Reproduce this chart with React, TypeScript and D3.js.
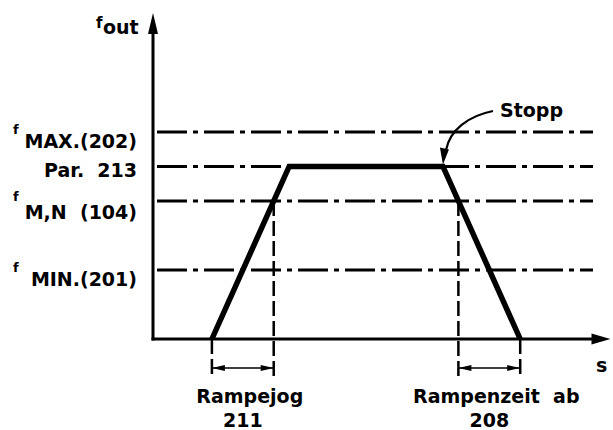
import React from 'react';
import * as d3 from 'd3';

// frequency levels (arbitrary units) and their labels
const levelKeys = ['fmax', 'par213', 'fmn', 'fmin'];
const levelValues = [60, 50, 40, 20];
const levelSub = ['MAX.(202)', 'Par.  213', 'M,N  (104)', 'MIN.(201)'];
const levelHasF = [true, false, true, true];

// ramp profile: time / frequency
const rampTimes = [3.85, 8.9, 18.95, 24];
const rampFreqs = [0, 50, 50, 0];

const rampLabels = [
  ['Rampejog', '211'],
  ['Rampenzeit  ab', '208'],
];

const W = 613;
const H = 430;
const FONT = '"DejaVu Sans", Verdana, sans-serif';

const App = () => {
  const x = d3.scaleLinear().domain([0, 30]).range([153, 612]);
  const y = d3.scaleLinear().domain([0, 100]).range([339, -6]);

  const x0 = x(0);
  const y0 = y(0);
  const yTop = y(94.5);
  const xEnd = x(29.9);
  const lineEnd = 593;

  const ramp = d3.line<number>()
    .x((d, i) => x(rampTimes[i]))
    .y((d) => y(d))(rampFreqs);

  // where the ramps cross the f M,N level
  const fmn = levelValues[2];
  const crossUp = rampTimes[0] + (rampTimes[1] - rampTimes[0]) * (fmn - rampFreqs[0]) / (rampFreqs[1] - rampFreqs[0]);
  const crossDown = rampTimes[2] + (rampTimes[3] - rampTimes[2]) * (rampFreqs[2] - fmn) / (rampFreqs[2] - rampFreqs[3]);
  const spans = [
    [rampTimes[0], crossUp],
    [crossDown, rampTimes[3]],
  ];
  const dimY = 368;
  const dashBottom = 378;

  const dblArrow = (a: number, b: number) => {
    const xa = x(a), xb = x(b);
    return (
      <g>
        <line x1={xa} x2={xb} y1={dimY} y2={dimY} stroke="#000" strokeWidth={1.6} />
        <path d={`M${xa},${dimY} l13,-3 l0,6 z`} fill="#000" />
        <path d={`M${xb},${dimY} l-13,-3 l0,6 z`} fill="#000" />
      </g>
    );
  };

  const tip = { x: x(rampTimes[2]), y: y(rampFreqs[2]) - 2 };

  return (
    <svg width={W} height={H} style={{ position: 'absolute', left: 0, top: 0, background: '#fff' }}>
      {/* level lines */}
      {levelValues.map((v, i) => (
        <line key={levelKeys[i]} x1={x0} x2={lineEnd} y1={y(v)} y2={y(v)}
          stroke="#000" strokeWidth={3} strokeDasharray="30 6 5 6" strokeDashoffset={-4} />
      ))}

      {/* dashed guides */}
      {[...spans.flat()].map((t, i) => {
        const isCross = i === 1 || i === 2;
        return (
          <line key={i} x1={x(t)} x2={x(t)} y1={isCross ? y(fmn) : y0} y2={dashBottom}
            stroke="#000" strokeWidth={2.5} strokeDasharray="15 5" />
        );
      })}

      {/* axes */}
      <line x1={x0} x2={x0} y1={yTop + 10} y2={y0 + 1.5} stroke="#000" strokeWidth={3} />
      <path d={`M${x0},${yTop} L${x0 - 5},${yTop + 21} L${x0 + 5},${yTop + 21} z`} fill="#000" />
      <line x1={x0 - 1.5} x2={xEnd - 10} y1={y0} y2={y0} stroke="#000" strokeWidth={3} />
      <path d={`M${xEnd},${y0} L${xEnd - 19},${y0 - 5.5} L${xEnd - 19},${y0 + 5.5} z`} fill="#000" />

      {/* ramp */}
      <path d={ramp ?? ''} fill="none" stroke="#000" strokeWidth={5.5} strokeLinejoin="miter" />

      {/* dimension arrows */}
      {spans.map(([a, b], i) => <g key={i}>{dblArrow(a, b)}</g>)}

      {/* stop arrow */}
      <path d={`M493,111 C468,116 450,130 446,150`} fill="none" stroke="#000" strokeWidth={2.2} />
      <path d={`M${tip.x},${tip.y} L${tip.x - 3},${tip.y - 17} L${tip.x + 6},${tip.y - 15} z`} fill="#000" />
      <text x={500} y={117} fontFamily={FONT} fontWeight="bold" fontSize={19} fill="#000">Stopp</text>

      {/* level labels */}
      {levelValues.map((v, i) => {
        const yy = y(v);
        const isPar = !levelHasF[i];
        return (
          <g key={levelKeys[i]} fontFamily={FONT} fontWeight="bold" fill="#000">
            {levelHasF[i] && (
              <text x={13} y={yy + (i === 2 ? 0 : 2)} fontSize={13}>f</text>
            )}
            <text x={137} y={isPar ? yy + 10 : yy + 16 + (i === 2 ? 2 : 0)} fontSize={19}
              textAnchor="end" style={{ whiteSpace: 'pre' }}>{levelSub[i]}</text>
          </g>
        );
      })}

      {/* axis labels */}
      <g fontFamily={FONT} fontWeight="bold" fill="#000">
        <text x={96} y={28} fontSize={15}>f</text>
        <text x={103} y={34} fontSize={19}>out</text>
        <text x={596} y={372} fontSize={19}>s</text>
      </g>

      {/* ramp labels */}
      {rampLabels.map(([a, b], i) => {
        const cx = (x(spans[i][0]) + x(spans[i][1])) / 2;
        return (
          <g key={a} fontFamily={FONT} fontWeight="bold" fontSize={19} textAnchor="middle" fill="#000">
            <text x={cx + 7} y={403} style={{ whiteSpace: 'pre' }}>{a}</text>
            <text x={cx} y={427}>{b}</text>
          </g>
        );
      })}
    </svg>
  );
};

export default App;
